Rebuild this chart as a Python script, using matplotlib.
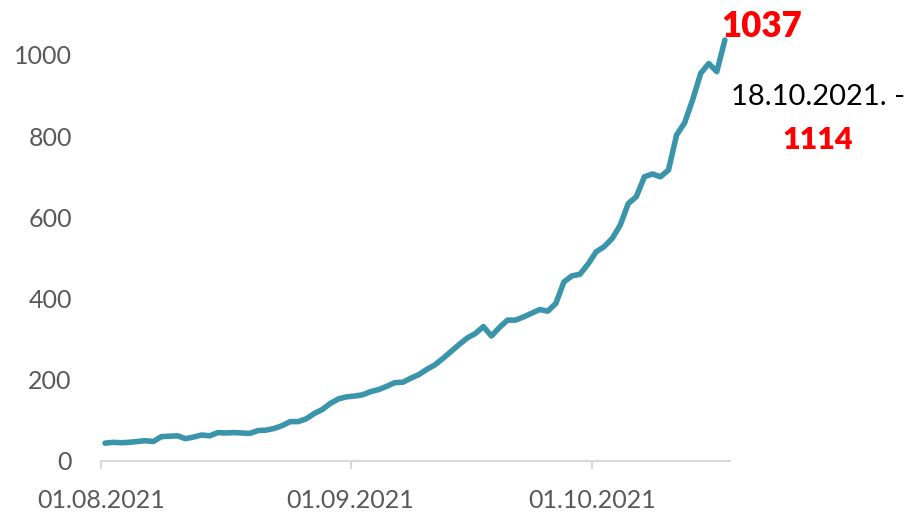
import numpy as np
import pandas as pd
import matplotlib
matplotlib.use("Agg")
import matplotlib.pyplot as plt
import matplotlib.dates as mdates

# daily values, 01.08.2021 .. 17.10.2021
start = "2021-08-01 12:00"
values = [44, 46, 45, 46, 48, 50, 48, 60, 61, 62,
          55, 59, 64, 62, 70, 69, 70, 69, 68, 75,
          76, 80, 87, 97, 97, 104, 117, 127, 142, 153,
          158, 160, 163, 171, 176, 184, 193, 194, 204, 213,
          226, 237, 253, 270, 287, 303, 314, 331, 308, 329,
          347, 347, 355, 364, 373, 369, 388, 441, 456, 460,
          485, 515, 528, 548, 581, 634, 651, 700, 707, 700,
          717, 803, 833, 890, 955, 979, 959, 1037]
tick_dates = ["2021-08-01", "2021-09-01", "2021-10-01"]
yticks = [0, 200, 400, 600, 800, 1000]
last_label = "1037"
next_date = "18.10.2021. -"
next_value = "1114"

dates = pd.date_range(start, periods=len(values), freq="D")

plt.rcParams['font.family'] = ['Lato', 'DejaVu Sans']

fig = plt.figure(figsize=(9.12, 5.13), dpi=100)
W, H = 912, 513
x0, x1 = 101, 730
ybot = 461
ax = fig.add_axes([x0 / W, 1 - ybot / H, (x1 - x0) / W, 446.6 / H])

ax.plot(dates, values, color="#3A95AA", lw=4, solid_capstyle="round",
        solid_joinstyle="round", clip_on=False)

t0 = pd.Timestamp("2021-08-01")
ax.set_xlim(t0, t0 + pd.Timedelta(days=(x1 - x0) / 8.05))
ax.set_ylim(0, 1100)

ax.set_xticks(pd.to_datetime(tick_dates))
ax.xaxis.set_major_formatter(mdates.DateFormatter("%d.%m.%Y"))
ax.set_yticks(yticks)

for s in ["top", "right", "left"]:
    ax.spines[s].set_visible(False)
ax.spines["bottom"].set_color("#D9D9D9")
ax.spines["bottom"].set_linewidth(1.5)

ax.tick_params(axis="x", colors="#D9D9D9", length=6, width=1.5,
               labelcolor="#595959", labelsize=18, pad=14)
ax.tick_params(axis="y", length=0, labelcolor="#595959", labelsize=18, pad=21)

ax.annotate(last_label, xy=(dates[-1], values[-1]), xytext=(-3, 10),
            textcoords="offset points", ha="left", va="center",
            color="red", fontsize=25, fontweight="heavy", annotation_clip=False)

fig.text(818 / W, 1 - 97 / H, next_date, ha="center", va="center",
         color="black", fontsize=21)
fig.text(818 / W, 1 - 140 / H, next_value, ha="center", va="center",
         color="red", fontsize=22, fontweight="heavy")

fig.savefig("out.png", dpi=100)
